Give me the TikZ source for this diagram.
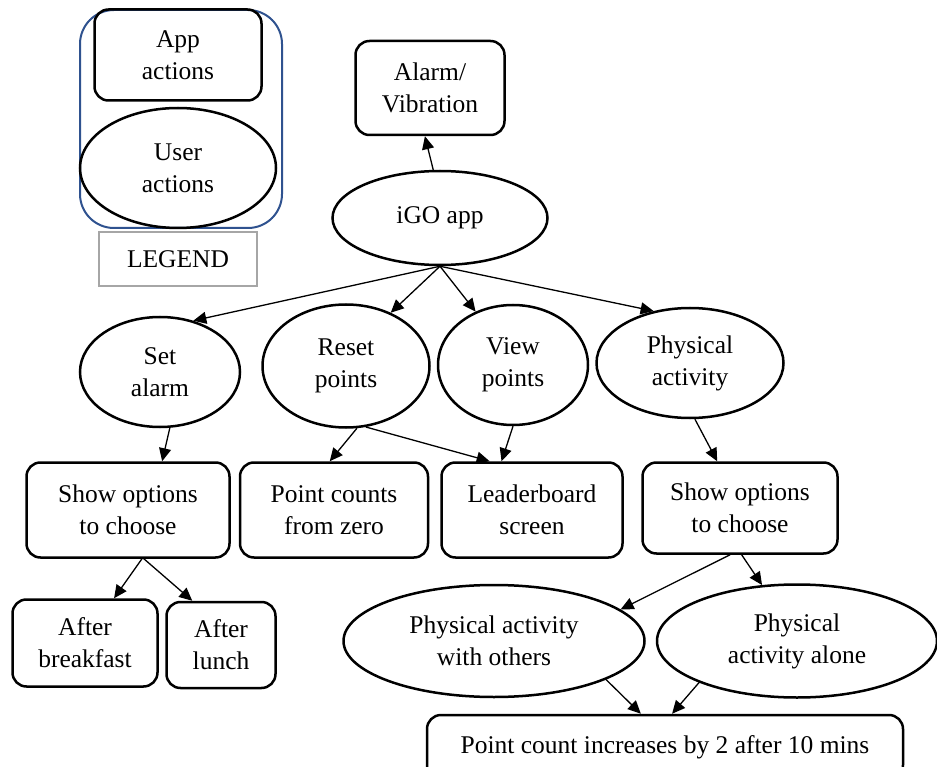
\documentclass[tikz,border=0pt]{standalone}
\usepackage{fontspec}
\setmainfont{Liberation Serif}
\usetikzlibrary{shapes.geometric,arrows.meta}
\definecolor{legendblue}{HTML}{2F528F}
\definecolor{legendgray}{HTML}{A6A6A6}
\begin{document}
\begin{tikzpicture}[x=1pt, y=-1pt, font=\fontsize{25.5}{32}\selectfont,
   box/.style={draw, rounded corners=14pt, line width=2.5pt, align=center, inner sep=0pt},
   oval/.style={draw, ellipse, line width=2.5pt, align=center, inner sep=0pt},
   link/.style={-{Triangle[length=13pt,width=12pt]}, line width=1.3pt}]
   \clip (0,0) rectangle (937,767);
   % legend
   \node[draw=legendblue, rounded corners=34pt, line width=2pt, minimum width=202pt, minimum height=218pt] (Key) at (181,119) {};
   \node[box, minimum width=167pt, minimum height=91pt] (App) at (178,55) {App\\actions};
   \node[oval, minimum width=196pt, minimum height=120pt] (User) at (178,168) {User\\actions};
   \node[draw=legendgray, line width=2pt, minimum width=158pt, minimum height=54pt] (Legend) at (178,259) {LEGEND};
   % flow
   \node[box, minimum width=149pt, minimum height=94pt]  (Alarm)     at (430,88)  {Alarm/\\Vibration};
   \node[oval, minimum width=215pt, minimum height=94pt] (iGO)       at (440,218) {iGO app};
   \node[oval, minimum width=160pt, minimum height=110pt] (SetAlarm) at (160,372) {Set\\alarm};
   \node[oval, minimum width=167pt, minimum height=123pt] (Reset)    at (346,366) {Reset\\points};
   \node[oval, minimum width=150pt, minimum height=120pt] (View)     at (513,365) {View\\points};
   \node[oval, minimum width=187pt, minimum height=110pt] (Phys)     at (690,363) {Physical\\activity};
   \node[box, minimum width=203pt, minimum height=95pt]  (ShowA)     at (128,510) {Show options\\to choose};
   \node[box, minimum width=188pt, minimum height=95pt]  (Zero)      at (334,510) {Point counts\\from zero};
   \node[box, minimum width=181pt, minimum height=95pt]  (Board)     at (532,510) {Leaderboard\\screen};
   \node[box, minimum width=195pt, minimum height=91pt]  (ShowP)     at (740,508) {Show options\\to choose};
   \node[box, minimum width=145pt, minimum height=87pt]  (Breakfast) at (85,643)  {After\\breakfast};
   \node[box, minimum width=109pt, minimum height=86pt]  (Lunch)     at (221,645) {After\\lunch};
   \node[oval, minimum width=301pt, minimum height=112pt] (Others)   at (494,641) {Physical activity\\with others};
   \node[oval, minimum width=280pt, minimum height=113pt] (Alone)    at (797,641) {Physical\\activity alone};
   \node[box, minimum width=476pt, minimum height=64pt]  (Count)     at (665,747) {Point count increases by 2 after 10 mins};
   \draw[link] (iGO.98) -- (Alarm.264);
   \draw[link] (iGO.south) -- (SetAlarm.57);
   \draw[link] (iGO.south) -- (Reset.50);
   \draw[link] (iGO.south) -- (View.125);
   \draw[link] (iGO.south) -- (Phys.125);
   \draw[link] (SetAlarm.-80) -- (ShowA.55);
   \draw[link] (Reset.-80) -- (Zero.95);
   \draw[link] (Reset.-72) -- (Board.131);
   \draw[link] (View.south) -- (Board.122);
   \draw[link] (Phys.-85) -- (ShowP.116);
   \draw[link] (ShowA.-74) -- (Breakfast.57);
   \draw[link] (ShowA.-72) -- (Lunch.123);
   \draw[link] (ShowP.-102) -- (Others.14);
   \draw[link] (ShowP.-88) -- (Alone.122);
   \draw[link] (Others.-19) -- (Count.126);
   \draw[link] (Alone.-157) -- (Count.78);
\end{tikzpicture}
\end{document}
